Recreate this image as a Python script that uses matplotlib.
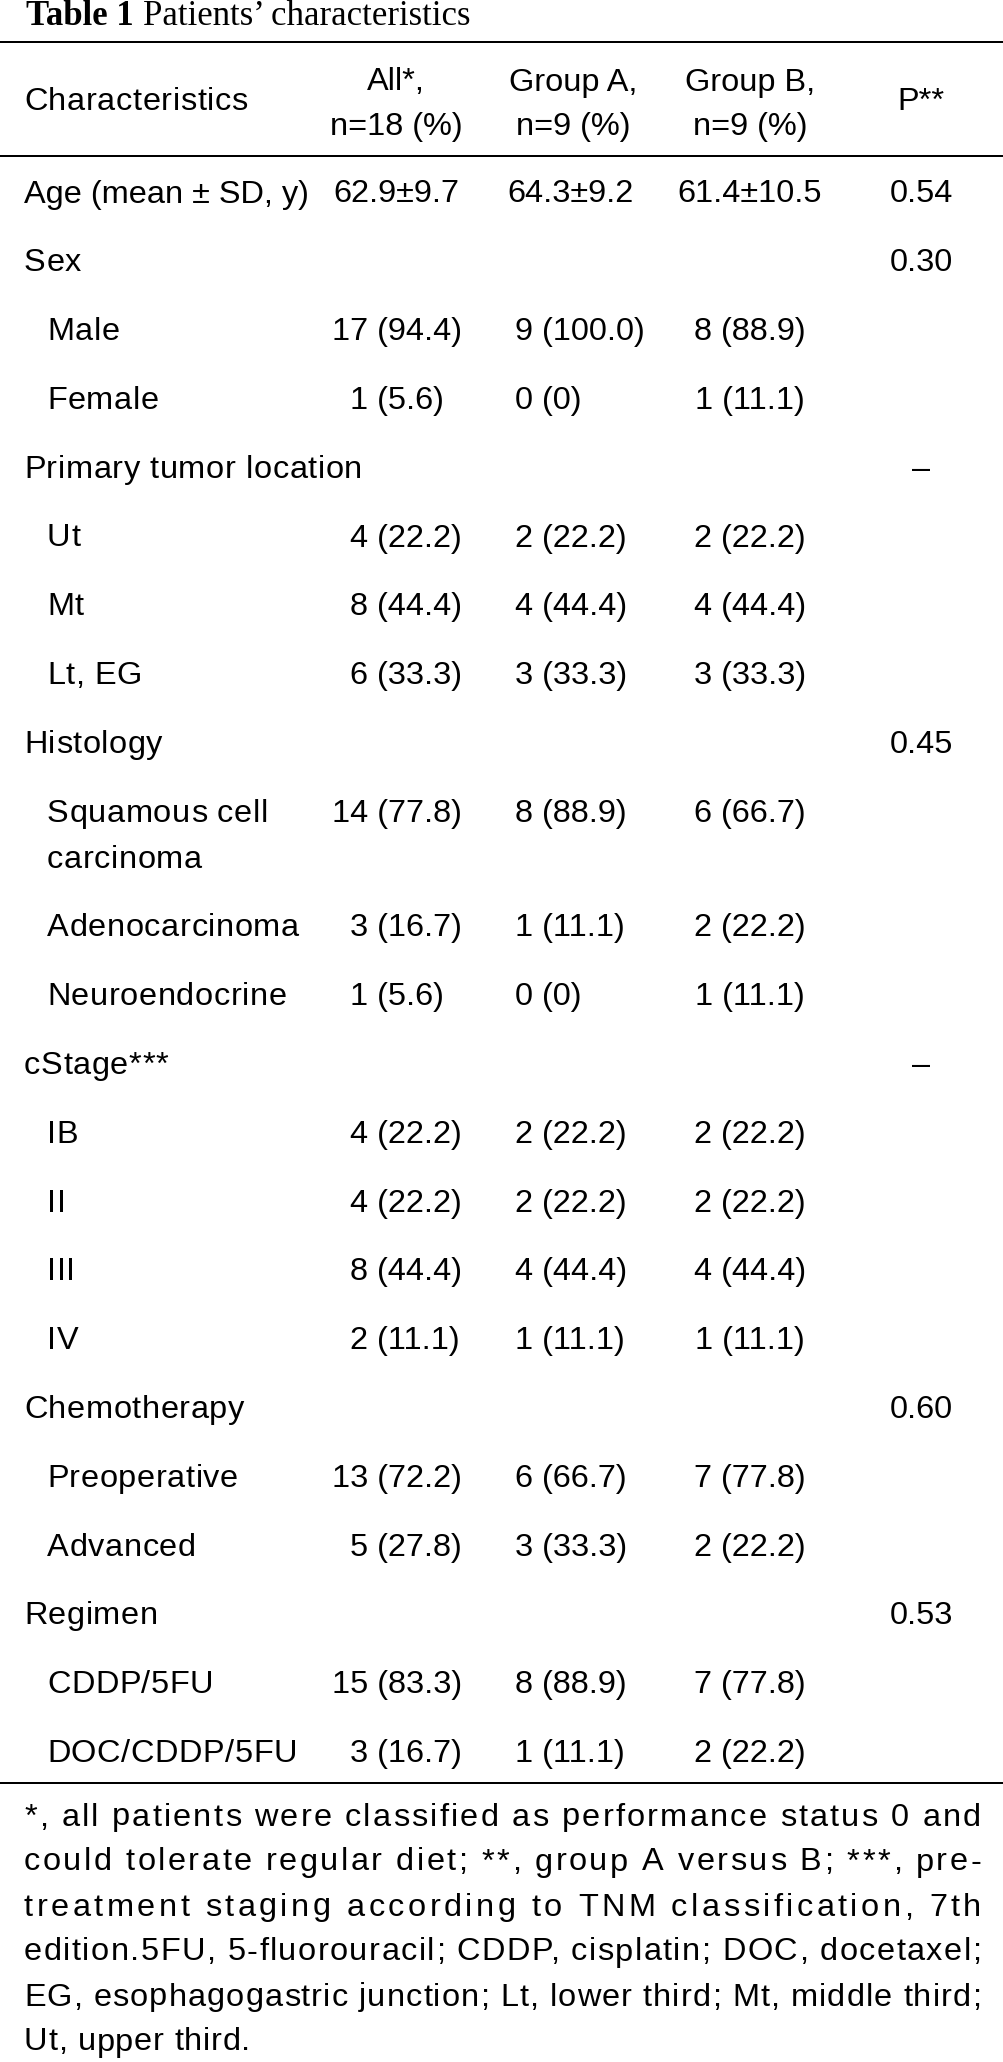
import matplotlib
matplotlib.use("Agg")
import matplotlib.pyplot as plt

W, H = 1004, 2062
DPI = 100

# ---------------- data ----------------
title_bold = "Table 1"
title_rest = "Patients’ characteristics"

header_label = "Characteristics"
header_cols = [("All*,", "n=18 (%)"), ("Group A,", "n=9 (%)"), ("Group B,", "n=9 (%)")]
header_p = "P**"

row_labels = ["Age (mean ± SD, y)", "Sex", "Male", "Female", "Primary tumor location",
              "Ut", "Mt", "Lt, EG", "Histology", "Squamous cell\ncarcinoma",
              "Adenocarcinoma", "Neuroendocrine", "cStage***", "IB", "II", "III", "IV",
              "Chemotherapy", "Preoperative", "Advanced", "Regimen", "CDDP/5FU",
              "DOC/CDDP/5FU"]
row_indent = [0, 0, 1, 1, 0, 1, 1, 1, 0, 1, 1, 1, 0, 1, 1, 1, 1, 0, 1, 1, 0, 1, 1]
all_vals = ["62.9±9.7", "", "17 (94.4)", "1 (5.6)", "", "4 (22.2)", "8 (44.4)", "6 (33.3)",
            "", "14 (77.8)", "3 (16.7)", "1 (5.6)", "", "4 (22.2)", "4 (22.2)", "8 (44.4)",
            "2 (11.1)", "", "13 (72.2)", "5 (27.8)", "", "15 (83.3)", "3 (16.7)"]
group_a = ["64.3±9.2", "", "9 (100.0)", "0 (0)", "", "2 (22.2)", "4 (44.4)", "3 (33.3)",
           "", "8 (88.9)", "1 (11.1)", "0 (0)", "", "2 (22.2)", "2 (22.2)", "4 (44.4)",
           "1 (11.1)", "", "6 (66.7)", "3 (33.3)", "", "8 (88.9)", "1 (11.1)"]
group_b = ["61.4±10.5", "", "8 (88.9)", "1 (11.1)", "", "2 (22.2)", "4 (44.4)", "3 (33.3)",
           "", "6 (66.7)", "2 (22.2)", "1 (11.1)", "", "2 (22.2)", "2 (22.2)", "4 (44.4)",
           "1 (11.1)", "", "7 (77.8)", "2 (22.2)", "", "7 (77.8)", "2 (22.2)"]
p_vals = ["0.54", "0.30", "", "", "–", "", "", "", "0.45", "", "", "", "–", "", "", "",
          "", "0.60", "", "", "0.53", "", ""]

footnote_lines = [
    "*, all patients were classified as performance status 0 and",
    "could tolerate regular diet; **, group A versus B; ***, pre-",
    "treatment staging according to TNM classification, 7th",
    "edition.5FU, 5-fluorouracil; CDDP, cisplatin; DOC, docetaxel;",
    "EG, esophagogastric junction; Lt, lower third; Mt, middle third;",
    "Ut, upper third.",
]

# ---------------- layout ----------------
FS = 23.4            # pt
FPX = FS * DPI / 72  # px
SANS = ["Liberation Sans", "DejaVu Sans"]
SERIF = ["Liberation Serif", "DejaVu Serif"]

fig = plt.figure(figsize=(W / DPI, H / DPI), dpi=DPI)
ax = fig.add_axes([0, 0, 1, 1])
ax.set_xlim(0, W)
ax.set_ylim(H, 0)
ax.axis("off")
renderer = fig.canvas.get_renderer()

def txt(x, y, s, ha="left", **kw):
    kw.setdefault("family", SANS)
    kw.setdefault("fontsize", FS)
    return ax.text(x, y, s, ha=ha, va="baseline", color="black", **kw)

_wcache = {}
def measure(s, fs=FS):
    key = (s, fs)
    if key not in _wcache:
        t = ax.text(0, 0, s, family=SANS, fontsize=fs)
        _wcache[key] = t.get_window_extent(renderer=renderer).width
        t.remove()
    return _wcache[key]

def width(t):
    return t.get_window_extent(renderer=renderer).width

SPACE_W = measure("a a") - measure("aa")

def word_width(w, t):
    return measure(w) + t * (len(w) - 1)

def draw_word(x, y, w, t):
    for k, ch in enumerate(w):
        xk = x + (measure(w[:k + 1]) - measure(ch)) + t * k
        txt(xk, y, ch)

def draw_tracked(x, y, s, t, gap=None):
    words = s.split(" ")
    if gap is None:
        gap = SPACE_W + 2 * t
    for w in words:
        if w:
            draw_word(x, y, w, t)
            x += word_width(w, t)
        x += gap

# title
tb = txt(26, 25, title_bold, family=SERIF, fontsize=25, fontweight="bold")
wb = width(tb)
txt(26 + wb + 9, 25, title_rest, family=SERIF, fontsize=25)

# rules
lw = 2 * 72 / DPI
for yl in (42, 156, 1783):
    ax.plot([0, W], [yl, yl], color="black", lw=lw, solid_capstyle="butt")

# header
BASE = 10.5
LT = 0.6   # label tracking (px)
x_label = 24
x_indent = 47
x_all_c = 396
x_a_c = 573
x_b_c = 750
x_p = 921
draw_tracked(x_label, 100 + BASE, header_label, LT)
for xc, (l1, l2) in zip([x_all_c, x_a_c, x_b_c], header_cols):
    txt(xc, 80 + BASE, l1, ha="center")
    txt(xc, 124 + BASE, l2, ha="center")
txt(x_p, 100 + BASE, header_p, ha="center")

# body
y = 192
step = 68.8
extra = 46
digit_w = 0.556 * FPX
for i, lab in enumerate(row_labels):
    lines = lab.split("\n")
    xl = x_indent if row_indent[i] else x_label
    for k, ln in enumerate(lines):
        if "±" in ln:
            txt(xl, y + k * extra + BASE, ln)
        else:
            draw_tracked(xl, y + k * extra + BASE, ln, LT)
    v = all_vals[i]
    if v:
        if "±" in v:
            txt(459, y + BASE, v, ha="right")
        else:
            cnt = v.split(" ")[0]
            txt(350 - (len(cnt) - 1) * digit_w, y + BASE, v)
    v = group_a[i]
    if v:
        txt(507 if "±" in v else 515, y + BASE, v)
    v = group_b[i]
    if v:
        txt(x_b_c, y + BASE, v, ha="center")
    v = p_vals[i]
    if v:
        txt(x_p, y + BASE, v, ha="center")
    y += step + (len(lines) - 1) * extra

# footnote (justified with letter spacing)
left, right = 24, 981
fy = 1815
for j, line in enumerate(footnote_lines):
    yb = fy + j * 45 + 10.5
    words = line.split(" ")
    if j == len(footnote_lines) - 1:
        draw_tracked(left, yb, line, 0.75)
        continue
    total_w = sum(measure(w) for w in words)
    n_in = sum(len(w) - 1 for w in words)
    n_gap = len(words) - 1
    t = (right - left - total_w - n_gap * SPACE_W) / (n_in + 2 * n_gap)
    draw_tracked(left, yb, line, t)

fig.savefig("out.png", dpi=DPI, facecolor="white")
